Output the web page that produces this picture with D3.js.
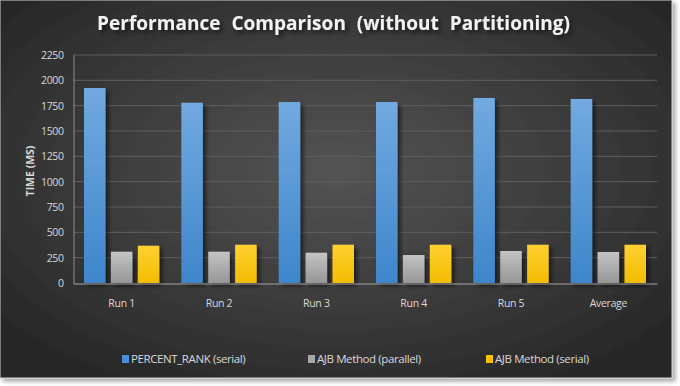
<!DOCTYPE html>
<html>
<head>
<meta charset="utf-8">
<style>
  body { margin: 0; background: #fff; }
  svg { display: block; font-family: "Open Sans", "DejaVu Sans", sans-serif; }
</style>
</head>
<body>
<div id="chart"></div>
<script src="https://cdnjs.cloudflare.com/ajax/libs/d3/7.8.5/d3.min.js"></script>
<script>
'use strict';

var categories = ['Run 1', 'Run 2', 'Run 3', 'Run 4', 'Run 5', 'Average'];
var seriesNames = ['PERCENT_RANK (serial)', 'AJB Method (parallel)', 'AJB Method (serial)'];
var percentRank = [1924, 1779, 1786, 1786, 1826, 1816];
var ajbParallel = [309, 309, 299, 276, 316, 306];
var ajbSerial = [368, 378, 378, 378, 378, 378];
var yTicks = [0, 250, 500, 750, 1000, 1250, 1500, 1750, 2000, 2250];

var seriesValues = [percentRank, ajbParallel, ajbSerial];
var colors = [['#72a9e0', '#3e86cb'], ['#c4c4c4', '#969696'], ['#ffd033', '#f2bd00']];
var legendColors = ['#4a90d9', '#a6a6a6', '#ffc000'];

var W = 680, H = 386;
var svg = d3.select('#chart').append('svg').attr('width', W).attr('height', H);
var defs = svg.append('defs');

var bg = defs.append('radialGradient').attr('id', 'bg')
  .attr('cx', '50%').attr('cy', '45%').attr('r', '65%');
bg.append('stop').attr('offset', '0%').attr('stop-color', '#545454');
bg.append('stop').attr('offset', '100%').attr('stop-color', '#272727');

var sh = defs.append('filter').attr('id', 'shadow')
  .attr('x', '-20%').attr('y', '-20%').attr('width', '150%').attr('height', '150%');
sh.append('feDropShadow').attr('dx', 3).attr('dy', 3).attr('stdDeviation', 2)
  .attr('flood-color', '#000').attr('flood-opacity', 0.55);

var boxSh = defs.append('filter').attr('id', 'boxshadow')
  .attr('x', '-5%').attr('y', '-5%').attr('width', '110%').attr('height', '110%');
boxSh.append('feDropShadow').attr('dx', 3).attr('dy', 3).attr('stdDeviation', 2)
  .attr('flood-color', '#000').attr('flood-opacity', 0.35);

colors.forEach(function(c, i) {
  var g = defs.append('linearGradient').attr('id', 'bar' + i)
    .attr('x1', 0).attr('y1', 0).attr('x2', 0).attr('y2', 1);
  g.append('stop').attr('offset', '0%').attr('stop-color', c[0]);
  g.append('stop').attr('offset', '100%').attr('stop-color', c[1]);
});

// chart box
svg.append('rect').attr('x', 0).attr('y', 0).attr('width', 672).attr('height', 378)
  .attr('fill', 'url(#bg)').attr('stroke', '#d0d0d0').attr('stroke-width', 1)
  .attr('filter', 'url(#boxshadow)');

var x0 = d3.scaleBand().domain(categories).range([73, 657]);
var x1 = d3.scaleBand().domain(d3.range(3)).range([11, x0.bandwidth() - 11]).paddingInner(0.2);
var y = d3.scaleLinear().domain([0, 2250]).range([283, 55]);

// grid
svg.append('g').selectAll('line').data(yTicks.slice(1)).join('line')
  .attr('x1', 73).attr('x2', 657)
  .attr('y1', function(d) { return y(d); }).attr('y2', function(d) { return y(d); })
  .attr('stroke', '#5e5e5e').attr('stroke-width', 1);

// y axis
var yAxis = svg.append('g').attr('transform', 'translate(73.5,0)')
  .call(d3.axisLeft(y).tickValues(yTicks).tickFormat(d3.format('d')).tickSize(0).tickPadding(10));
yAxis.select('.domain').attr('stroke', '#8c8c8c');
yAxis.selectAll('text').attr('fill', '#d9d9d9').attr('font-size', '10.5px')
  .attr('font-family', '"Open Sans", sans-serif').attr('letter-spacing', '-0.4px');

// bars
var groups = svg.append('g').selectAll('g').data(categories).join('g')
  .attr('transform', function(d) { return 'translate(' + x0(d) + ',0)'; });
groups.selectAll('rect')
  .data(function(d, ci) { return seriesValues.map(function(s, si) { return { si: si, v: s[ci] }; }); })
  .join('rect')
  .attr('x', function(d) { return x1(d.si); })
  .attr('width', x1.bandwidth())
  .attr('y', function(d) { return y(d.v); })
  .attr('height', function(d) { return y(0) - y(d.v); })
  .attr('fill', function(d) { return 'url(#bar' + d.si + ')'; })
  .attr('filter', 'url(#shadow)');

// x axis
var xAxis = svg.append('g').attr('transform', 'translate(0,283.5)')
  .call(d3.axisBottom(x0).tickSize(0).tickPadding(16));
xAxis.select('.domain').attr('stroke', '#a6a6a6');
xAxis.selectAll('text').attr('fill', '#d9d9d9').attr('font-size', '10.5px')
  .attr('font-family', '"Open Sans", sans-serif').attr('letter-spacing', '-0.3px');

// y title
svg.append('text').attr('transform', 'translate(34,171) rotate(-90)')
  .attr('text-anchor', 'middle').attr('fill', '#d9d9d9')
  .attr('font-size', '10.5px').attr('font-weight', 'bold')
  .text('TIME (MS)');

// title
svg.append('text').attr('x', 97).attr('y', 30)
  .attr('fill', '#f2f2f2').attr('font-size', '19px').attr('font-weight', 'bold')
  .attr('textLength', 473).attr('lengthAdjust', 'spacing')
  .style('word-spacing', '6px')
  .attr('filter', 'url(#shadow)')
  .text('Performance Comparison (without Partitioning)');

// legend
var legendX = [122, 308, 486];
var leg = svg.append('g').selectAll('g').data(seriesNames).join('g')
  .attr('transform', function(d, i) { return 'translate(' + legendX[i] + ',359)'; });
leg.append('rect').attr('x', 0).attr('y', -4).attr('width', 7).attr('height', 8)
  .attr('fill', function(d, i) { return legendColors[i]; });
leg.append('text').attr('x', 9).attr('y', 0).attr('dy', '0.35em')
  .attr('fill', '#d9d9d9').attr('font-size', '11.5px').attr('letter-spacing', '-0.4px')
  .text(function(d) { return d; });
</script>
</body>
</html>
